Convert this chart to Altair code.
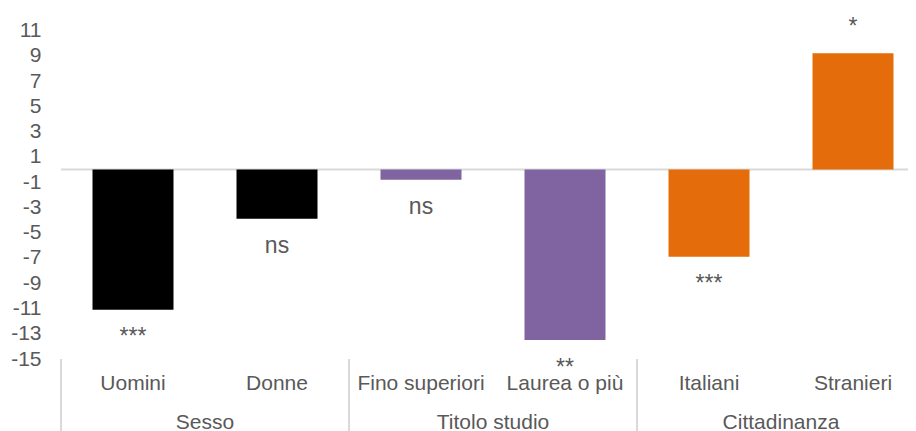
import altair as alt
import pandas as pd

categories = ["Uomini", "Donne", "Fino superiori", "Laurea o più", "Italiani", "Stranieri"]
groups = ["Sesso", "Sesso", "Titolo studio", "Titolo studio", "Cittadinanza", "Cittadinanza"]
values = [-11.1, -3.9, -0.8, -13.5, -6.9, 9.2]
signif = ["***", "ns", "ns", "**", "***", "*"]
group_names = ["Sesso", "Titolo studio", "Cittadinanza"]
group_colors = ["#000000", "#8064A2", "#E46C0A"]
y_ticks = list(range(-15, 12, 2))

df = pd.DataFrame({"idx": list(range(len(categories))), "cat": categories,
                   "group": groups, "value": values, "sig": signif})
gdf = df.groupby("group", sort=False)["idx"].agg(["min", "max"]).reset_index()
gdf["center"] = (gdf["min"] + gdf["max"]) / 2
sep_df = pd.DataFrame({"pos": list(gdf["min"] - 0.5) + [gdf["max"].max() + 0.5]})

W, H = 847, 341
FONT = "Liberation Sans"
GRAY = "#595959"

xscale = alt.Scale(domain=[-0.5, 5.382], nice=False, zero=False, padding=0)
yscale = alt.Scale(domain=[-15, 12], nice=False, zero=False)
yaxis = alt.Axis(values=y_ticks, ticks=False, domain=False, grid=False,
                 labelFontSize=21, labelColor=GRAY, labelFont=FONT,
                 labelPadding=20, title=None, labelOverlap=False,
                 labelExpr="toString(datum.value)")

X = alt.X("idx:Q", scale=xscale, axis=None)
Yv = alt.Y("value:Q", scale=yscale, axis=yaxis, stack=None)

base = alt.Chart(df)

bars = base.mark_bar(size=81).encode(
    x=X,
    y=Yv,
    color=alt.Color("group:N", scale=alt.Scale(domain=group_names, range=group_colors), legend=None),
)

zero = alt.Chart(pd.DataFrame({"z": [0]})).mark_rule(color="#D9D9D9", strokeWidth=2).encode(
    y=alt.Y("z:Q", scale=yscale, axis=yaxis)
)

neg_lab = base.transform_filter("datum.value < 0").mark_text(
    baseline="alphabetic", dy=34.5, fontSize=23, color=GRAY, font=FONT
).encode(x=X, y=Yv, text="sig:N")

pos_lab = base.transform_filter("datum.value >= 0").mark_text(
    baseline="alphabetic", dy=-19, fontSize=23, color=GRAY, font=FONT
).encode(x=X, y=Yv, text="sig:N")

cat_lab = base.mark_text(baseline="middle", fontSize=21, color=GRAY, font=FONT).encode(
    x=X, y=alt.value(H + 25), text="cat:N"
)

grp_lab = alt.Chart(gdf).mark_text(baseline="middle", fontSize=21, color=GRAY, font=FONT).encode(
    x=alt.X("center:Q", scale=xscale, axis=None), y=alt.value(H + 63.5), text="group:N"
)

seps = alt.Chart(sep_df).mark_rule(color="#D9D9D9", strokeWidth=2).encode(
    x=alt.X("pos:Q", scale=xscale, axis=None), y=alt.value(H), y2=alt.value(H + 72)
)

chart = alt.layer(zero, bars, neg_lab, pos_lab, seps, cat_lab, grp_lab).properties(
    width=W, height=H,
    autosize=alt.AutoSizeParams(type="none"),
    padding={"left": 53, "top": 10, "right": 0, "bottom": 72},
    background="white",
).configure_view(stroke=None)

chart.save("out.html", embed_options={"renderer": "svg", "actions": False})
